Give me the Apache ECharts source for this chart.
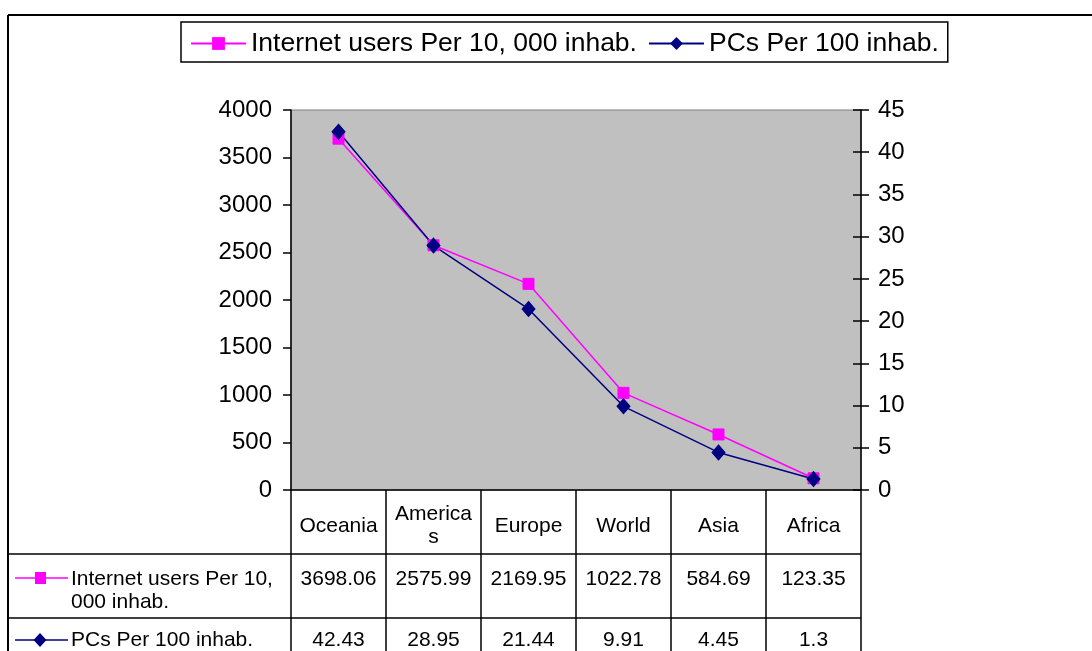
<!DOCTYPE html>
<html>
<head>
<meta charset="utf-8">
<script src="https://cdn.jsdelivr.net/npm/echarts@6/dist/echarts.min.js"></script>
<style>
html,body{margin:0;padding:0;background:#fff;}
#chart{width:1092px;height:651px;}
</style>
</head>
<body>
<div id="chart"></div>
<script>
const categories = ['Oceania', 'Americas', 'Europe', 'World', 'Asia', 'Africa'];
const seriesNames = ['Internet users Per 10, 000 inhab.', 'PCs Per 100 inhab.'];
const internetUsers = [3698.06, 2575.99, 2169.95, 1022.78, 584.69, 123.35];
const pcs = [42.43, 28.95, 21.44, 9.91, 4.45, 1.3];
const leftAxis = { min: 0, max: 4000, interval: 500 };
const rightAxis = { min: 0, max: 45, interval: 5 };

const FONT = '"Liberation Sans", Arial, sans-serif';
const MAGENTA = '#FF00FF';
const NAVY = '#000080';

const chart = echarts.init(document.getElementById('chart'), null, { renderer: 'canvas' });

const tableLabel = (margin) => ({
  show: true, interval: 0, hideOverlap: false, margin: margin, fontFamily: FONT, fontSize: 21, color: '#000',
  verticalAlign: 'middle', lineHeight: 23
});

const option = {
  animation: false,
  backgroundColor: '#fff',
  textStyle: { fontFamily: FONT },
  grid: {
    left: 291, top: 110, right: 231, bottom: 161,
    containLabel: false, outerBoundsMode: 'none',
    show: true, backgroundColor: '#C0C0C0', borderColor: '#808080', borderWidth: 1
  },
  legend: {
    left: 181, top: 22, padding: [8, 9, 5, 9], itemGap: 11,
    itemWidth: 55, itemHeight: 16,
    backgroundColor: '#fff', borderColor: '#000', borderWidth: 1.5, borderRadius: 0,
    textStyle: { fontFamily: FONT, fontSize: 26.5, color: '#000' },
    data: seriesNames
  },
  xAxis: [
    {
      type: 'category', data: categories, position: 'bottom', boundaryGap: true,
      axisLine: { show: true, lineStyle: { color: '#000', width: 1.5 } },
      axisTick: { show: true, interval: 0, inside: false, length: 161, alignWithLabel: false, lineStyle: { color: '#000', width: 1.5 } },
      axisLabel: Object.assign(tableLabel(36), {
        formatter: (v) => v === 'Americas' ? 'America\ns' : v
      })
    },
    {
      type: 'category', data: internetUsers.map(String), position: 'bottom', boundaryGap: true,
      axisLine: { show: false }, axisTick: { show: false },
      axisLabel: tableLabel(89)
    },
    {
      type: 'category', data: pcs.map(String), position: 'bottom', boundaryGap: true,
      axisLine: { show: false }, axisTick: { show: false },
      axisLabel: tableLabel(150)
    }
  ],
  yAxis: [
    {
      type: 'value', position: 'left', min: leftAxis.min, max: leftAxis.max, interval: leftAxis.interval,
      axisLine: { show: true, lineStyle: { color: '#000', width: 1.5 } },
      axisTick: { show: true, inside: false, length: 8, lineStyle: { color: '#000', width: 1.5 } },
      axisLabel: { margin: 19, fontFamily: FONT, fontSize: 24, color: '#000', formatter: (v) => String(v) },
      splitLine: { show: false }
    },
    {
      type: 'value', position: 'right', min: rightAxis.min, max: rightAxis.max, interval: rightAxis.interval,
      axisLine: { show: true, lineStyle: { color: '#000', width: 1.5 } },
      axisTick: { show: true, inside: false, length: 8, lineStyle: { color: '#000', width: 1.5 } },
      axisLabel: { margin: 17, fontFamily: FONT, fontSize: 24, color: '#000', formatter: (v) => String(v) },
      splitLine: { show: false }
    },
    {
      type: 'value', position: 'right', min: rightAxis.min, max: rightAxis.max, interval: rightAxis.interval,
      axisLine: { show: false },
      axisTick: { show: true, inside: true, length: 8, lineStyle: { color: '#000', width: 1.5 } },
      axisLabel: { show: false },
      splitLine: { show: false }
    }
  ],
  series: [
    {
      name: seriesNames[0], type: 'line', data: internetUsers, xAxisIndex: 0, yAxisIndex: 0,
      symbol: 'rect', symbolSize: 11, showAllSymbol: true,
      lineStyle: { color: MAGENTA, width: 1.5 },
      itemStyle: { color: MAGENTA, borderColor: MAGENTA }
    },
    {
      name: seriesNames[1], type: 'line', data: pcs, xAxisIndex: 0, yAxisIndex: 1,
      symbol: 'diamond', symbolSize: [13, 15], showAllSymbol: true,
      lineStyle: { color: NAVY, width: 1.5 },
      itemStyle: { color: NAVY, borderColor: NAVY }
    }
  ],
  graphic: [
    { type: 'line', shape: { x1: 8, y1: 15, x2: 1092, y2: 15 }, style: { stroke: '#000', lineWidth: 2 } },
    { type: 'line', shape: { x1: 8, y1: 15, x2: 8, y2: 651 }, style: { stroke: '#000', lineWidth: 2 } },
    { type: 'line', shape: { x1: 8, y1: 554, x2: 861, y2: 554 }, style: { stroke: '#000', lineWidth: 1.5 } },
    { type: 'line', shape: { x1: 8, y1: 618, x2: 861, y2: 618 }, style: { stroke: '#000', lineWidth: 1.5 } },
    { type: 'line', shape: { x1: 15, y1: 578, x2: 68, y2: 578 }, style: { stroke: MAGENTA, lineWidth: 1.5 } },
    { type: 'rect', shape: { x: 35, y: 572, width: 11, height: 12 }, style: { fill: MAGENTA } },
    { type: 'text', left: 71, top: 568, style: { text: 'Internet users Per 10,\n000 inhab.', font: '21px ' + FONT, fill: '#000', lineHeight: 23 } },
    { type: 'line', shape: { x1: 15, y1: 640, x2: 68, y2: 640 }, style: { stroke: NAVY, lineWidth: 1.5 } },
    { type: 'polygon', shape: { points: [[40, 633], [46.5, 640], [40, 647], [33.5, 640]] }, style: { fill: NAVY } },
    { type: 'text', left: 71, top: 630, style: { text: seriesNames[1], font: '21px ' + FONT, fill: '#000' } }
  ]
};
chart.setOption(option);
</script>
</body>
</html>
